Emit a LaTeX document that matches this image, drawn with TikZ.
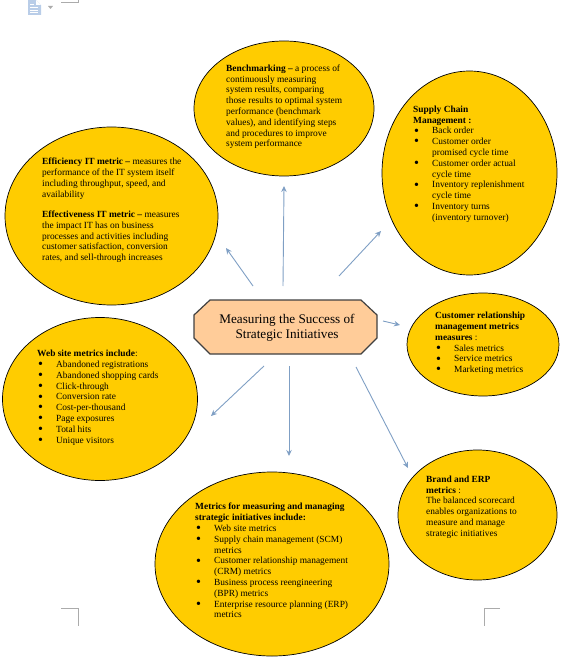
\documentclass[tikz,border=0pt]{standalone}
\usepackage{fontspec}
\setmainfont{Liberation Serif}
\usetikzlibrary{arrows.meta}
\definecolor{bubble}{HTML}{FFCC00}
\definecolor{centrefill}{HTML}{FFCC99}
\definecolor{arrowblue}{HTML}{7F9FC4}
\definecolor{cropgrey}{HTML}{ABABAB}
\definecolor{iconblue}{HTML}{B9CDE8}
\newcommand{\itm}[1]{\makebox[19pt][l]{\hspace*{1pt}\smash{\raisebox{-1.2pt}{\scalebox{1.5}{\textbullet}}}}#1\\}
\newcommand{\cont}[1]{\hspace*{19pt}#1\\}
\tikzset{
  label/.style={anchor=north west,align=left,inner sep=0pt,font=\fontsize{9.4}{10.8}\selectfont},
  link/.style={draw=arrowblue,line width=0.9pt,-{Stealth[length=6pt,width=5.5pt]}},
  crop/.style={draw=cropgrey,line width=0.9pt}
}
\begin{document}
\begin{tikzpicture}[x=1pt,y=-1pt]
\useasboundingbox (0,0) rectangle (565,671);
% crop marks
\coordinate (c1a) at (61,2.5); \coordinate (c1b) at (78.5,2.5); \coordinate (c1c) at (78.5,0);
\draw[crop] (c1a) -- (c1b) -- (c1c);
\coordinate (c2a) at (61,608.5); \coordinate (c2b) at (78.5,608.5); \coordinate (c2c) at (78.5,626);
\draw[crop] (c2a) -- (c2b) -- (c2c);
\coordinate (c3a) at (500,608.5); \coordinate (c3b) at (484,608.5); \coordinate (c3c) at (484,626);
\draw[crop] (c3a) -- (c3b) -- (c3c);
% document icon
\fill[iconblue] (28,0) -- (36,0) -- (41,5) -- (41,15) -- (28,15) -- cycle;
\fill[white] (36,0) -- (41,5) -- (36,5) -- cycle;
\draw[white,line width=0.7pt] (30,4) -- (34,4) (30,7) -- (38,7) (30,10) -- (38,10) (30,12.5) -- (38,12.5);
\fill[cropgrey] (48,6) -- (53,6) -- (50.5,9) -- cycle;
% bubbles
\path[draw=black,line width=0.7pt,fill=bubble] (284,108.5) ellipse [x radius=90,y radius=67.5];
\path[draw=black,line width=0.7pt,fill=bubble] (469.5,173) ellipse [x radius=87.5,y radius=102];
\path[draw=black,line width=0.7pt,fill=bubble] (111.5,216) ellipse [x radius=106.5,y radius=89];
\path[draw=black,line width=0.7pt,fill=bubble] (483,344.5) ellipse [x radius=76,y radius=51.5];
\path[draw=black,line width=0.7pt,fill=bubble] (100,399) ellipse [x radius=97.5,y radius=81.5];
\path[draw=black,line width=0.7pt,fill=bubble] (272,564) ellipse [x radius=117,y radius=92];
\path[draw=black,line width=0.7pt,fill=bubble] (477.5,515) ellipse [x radius=79.5,y radius=65];
% centre
\draw[draw=black!75,line width=1.2pt,fill=centrefill] (210,300) -- (361,300) -- (377,315) -- (377,338) -- (361,354) -- (210,354) -- (194,338) -- (194,315) -- cycle;
\node (centre) at (287,327.5) [align=center,inner sep=0pt,font=\fontsize{13.2}{15.2}\selectfont] {Measuring the Success of\\Strategic Initiatives};
% texts
\node (bench) at (226,64.5) [label] {\textbf{Benchmarking –} a process of\\continuously measuring\\system results, comparing\\those results to optimal system\\performance (benchmark\\values), and identifying steps\\and procedures to improve\\system performance};
\node (supply) at (413,105.5) [label] {\textbf{Supply Chain}\\\textbf{Management :}\\\itm{Back order}\itm{Customer order}\cont{promised cycle time}\itm{Customer order actual}\cont{cycle time}\itm{Inventory replenishment}\cont{cycle time}\itm{Inventory turns}\cont{(inventory turnover)}};
\node (effic) at (42,158) [label] {\textbf{Efficiency IT metric –} measures the\\performance of the IT system itself\\including throughput, speed, and\\availability\\[9.5pt]\textbf{Effectiveness IT metric –} measures\\the impact IT has on business\\processes and activities including\\customer satisfaction, conversion\\rates, and sell-through increases};
\node (crm) at (435,312) [label] {\textbf{Customer relationship}\\\textbf{management metrics}\\\textbf{measures} :\\\itm{Sales metrics}\itm{Service metrics}\itm{Marketing metrics}};
\node (web) at (37,350) [label] {\textbf{Web site metrics include}:\\\itm{Abandoned registrations}\itm{Abandoned shopping cards}\itm{Click-through}\itm{Conversion rate}\itm{Cost-per-thousand}\itm{Page exposures}\itm{Total hits}\itm{Unique visitors}};
\node (plan) at (195,503) [label] {\textbf{Metrics for measuring and managing}\\\textbf{strategic initiatives include:}\\\itm{Web site metrics}\itm{Supply chain management (SCM)}\cont{metrics}\itm{Customer relationship management}\cont{(CRM) metrics}\itm{Business process reengineering}\cont{(BPR) metrics}\itm{Enterprise resource planning (ERP)}\cont{metrics}};
\node (brand) at (426,475.5) [label] {\textbf{Brand and ERP}\\\textbf{metrics} :\\The balanced scorecard\\enables organizations to\\measure and manage\\strategic initiatives};
% connectors
\coordinate (a1s) at (253,286); \coordinate (a1e) at (226,248);
\coordinate (a2s) at (283,286); \coordinate (a2e) at (284,186);
\coordinate (a3s) at (339,276); \coordinate (a3e) at (381,231);
\coordinate (a4s) at (383,321); \coordinate (a4e) at (400,325);
\coordinate (a5s) at (356,367); \coordinate (a5e) at (408,468);
\coordinate (a6s) at (289,366); \coordinate (a6e) at (289,456);
\coordinate (a7s) at (264,366); \coordinate (a7e) at (211,416);
\foreach \n in {1,...,7}{\draw[link] (a\n s) -- (a\n e);}
\end{tikzpicture}
\end{document}
